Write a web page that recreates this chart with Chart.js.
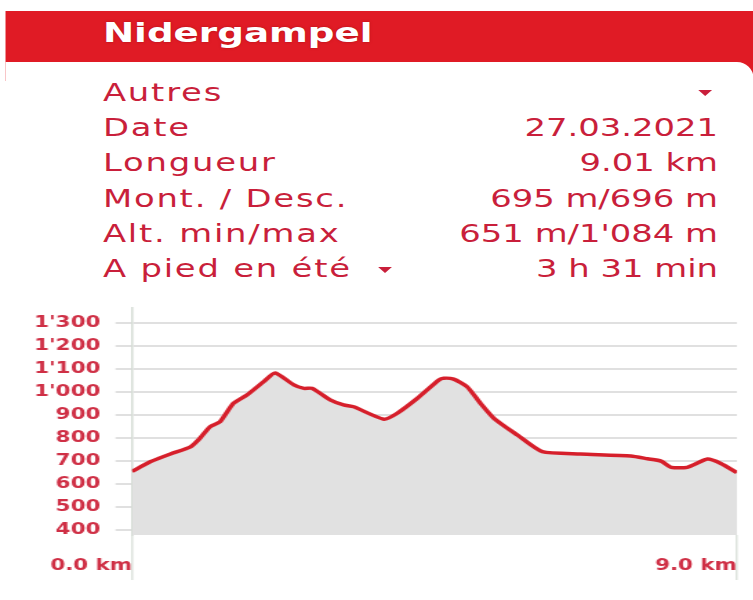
<!DOCTYPE html>
<html>
<head>
<meta charset="utf-8">
<script src="https://cdn.jsdelivr.net/npm/chart.js@4.4.1/dist/chart.umd.min.js"></script>
<style>
  html, body { margin: 0; padding: 0; background: #fff; overflow: hidden; }
  /* the source screenshot is stretched sideways, so the whole page is too */
  #page {
    position: absolute; left: 0; top: 0; width: 546px; height: 600px;
    transform: scaleX(1.38); transform-origin: 0 0;
    font-family: "DejaVu Sans", Verdana, sans-serif;
  }
  .bar { position: absolute; left: 4px; right: 0; top: 11px; height: 70px; background: #e01b25; }
  .title {
    position: absolute; left: 74.6px; top: 7px; line-height: 51px;
    font-size: 27px; font-weight: bold; color: #fff;
    text-shadow: 0 0 2px rgba(120, 0, 0, 0.5);
  }
  .panel {
    position: absolute; left: 4px; right: 0; top: 62px; bottom: 0;
    background: #fff; border-top-right-radius: 12px 16px;
  }
  .rows { position: absolute; left: 74.6px; top: 75px; width: 445.7px; }
  .row {
    display: flex; justify-content: space-between; align-items: center;
    height: 35.2px; line-height: 35.2px; font-size: 24.5px; color: #c91f3b;
  }
  .row > span:first-child { letter-spacing: 1.3px; }
  .caret {
    display: inline-block; width: 0; height: 0; vertical-align: middle;
    border-left: 5.5px solid transparent; border-right: 5.5px solid transparent;
    border-top: 6px solid #c91f3b;
  }
  #chartBox { position: absolute; left: 0; top: 295px; width: 546px; height: 305px; }
</style>
</head>
<body>
<div id="page">
  <div class="bar"></div>
  <div class="title">Nidergampel</div>
  <div class="panel"></div>
  <div class="rows">
    <div class="row"><span>Autres</span><span class="caret" style="margin-right:4px"></span></div>
    <div class="row"><span>Date</span><span>27.03.2021</span></div>
    <div class="row"><span>Longueur</span><span>9.01 km</span></div>
    <div class="row"><span>Mont. / Desc.</span><span>695 m/696 m</span></div>
    <div class="row"><span>Alt. min/max</span><span>651 m/1'084 m</span></div>
    <div class="row"><span>A pied en été <span class="caret" style="margin-left:10px"></span></span><span>3 h 31 min</span></div>
  </div>
  <div id="chartBox"><canvas id="profileChart"></canvas></div>
</div>
<script>
const distanceKm = [0.00, 0.27, 0.57, 0.87, 1.01, 1.16, 1.31, 1.51, 1.71, 1.96, 2.13, 2.41, 2.56, 2.68,
  2.95, 3.15, 3.30, 3.75, 3.95, 4.25, 4.57, 4.64, 4.79, 4.99, 5.19, 5.39, 5.74, 6.11, 6.68, 7.43,
  7.68, 7.88, 8.03, 8.27, 8.57, 8.77, 9.01];
const elevationM = [656, 698, 732, 763, 800, 850, 872, 952, 988, 1046, 1084, 1032, 1017, 1017,
  967, 945, 937, 883, 909, 974, 1053, 1061, 1057, 1024, 952, 887, 814, 742, 732, 723,
  711, 701, 674, 674, 710, 691, 651];
const yTickValues = [400, 500, 600, 700, 800, 900, 1000, 1100, 1200, 1300];
const xTickValues = [0, 9.01];

const red = "#cf2f45";
const tickFont = { family: "DejaVu Sans", size: 15.5, weight: "bold" };

function swissNumber(v) {
  if (v < 1000) return String(v);
  return Math.floor(v / 1000) + "'" + String(v % 1000).padStart(3, "0");
}

new Chart(document.getElementById("profileChart"), {
  type: "line",
  data: {
    datasets: [{
      data: distanceKm.map((km, i) => ({ x: km, y: elevationM[i] })),
      borderColor: "#d61f2b",
      borderWidth: 3.5,
      backgroundColor: "#e1e1e1",
      fill: "start",
      tension: 0.2,
      pointRadius: 0
    }]
  },
  options: {
    responsive: true,
    maintainAspectRatio: false,
    animation: false,
    layout: { padding: { top: 13, right: 12, left: 0, bottom: 0 } },
    plugins: { legend: { display: false }, tooltip: { enabled: false } },
    scales: {
      x: {
        type: "linear",
        min: 0,
        max: 9.01,
        afterBuildTicks: (scale) => { scale.ticks = xTickValues.map((v) => ({ value: v })); },
        afterFit: (scale) => { scale.height = 65; },
        border: { display: false },
        grid: { drawOnChartArea: false, tickLength: 45, color: "#dde3dd", lineWidth: 1.5 },
        ticks: {
          align: "end",
          padding: -23,
          color: red,
          font: tickFont,
          maxRotation: 0,
          callback: (v) => Number(v).toFixed(1) + " km"
        }
      },
      y: {
        min: 380,
        max: 1366,
        afterBuildTicks: (scale) => { scale.ticks = yTickValues.map((v) => ({ value: v })); },
        afterFit: (scale) => { scale.width = 95.7; scale.paddingTop = 0; scale.paddingBottom = 0; },
        border: { display: true, color: "#d5dcd5", width: 1.5 },
        grid: { color: "#e0e0e0", lineWidth: 2, tickLength: 12 },
        ticks: {
          padding: 11,
          color: red,
          font: tickFont,
          callback: (v) => swissNumber(v)
        }
      }
    }
  }
});
</script>
</body>
</html>
